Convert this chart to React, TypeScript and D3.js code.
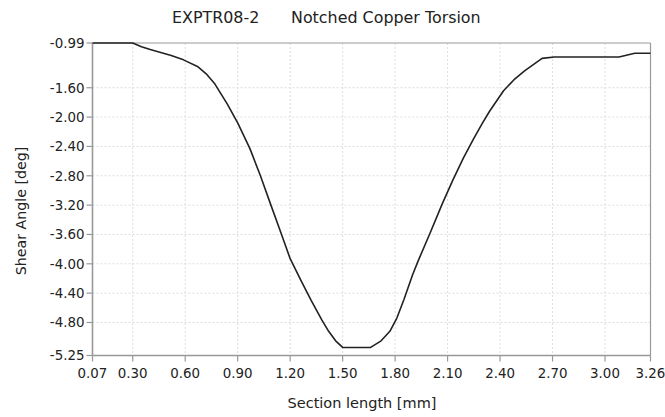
import React from "react";
import * as d3 from "d3";

const xValues = [0.07, 0.3, 0.35, 0.4, 0.46, 0.52, 0.59, 0.67, 0.72, 0.77, 0.84, 0.9, 0.97, 1.03, 1.09, 1.14, 1.2, 1.26, 1.32, 1.38, 1.42, 1.46, 1.5, 1.66, 1.72, 1.77, 1.81, 1.85, 1.9, 1.93, 2.0, 2.07, 2.13, 2.19, 2.25, 2.3, 2.34, 2.42, 2.48, 2.54, 2.64, 2.71, 3.08, 3.17, 3.26];
const yValues = [-0.99, -0.99, -1.04, -1.08, -1.12, -1.16, -1.22, -1.31, -1.41, -1.55, -1.82, -2.08, -2.43, -2.8, -3.2, -3.53, -3.93, -4.22, -4.5, -4.76, -4.92, -5.05, -5.14, -5.14, -5.05, -4.92, -4.74, -4.49, -4.15, -3.97, -3.58, -3.18, -2.86, -2.56, -2.29, -2.08, -1.92, -1.64, -1.49, -1.37, -1.2, -1.18, -1.18, -1.13, -1.13];
const xTicks = [0.07, 0.3, 0.6, 0.9, 1.2, 1.5, 1.8, 2.1, 2.4, 2.7, 3.0, 3.26];
const yTicks = [-0.99, -1.6, -2.0, -2.4, -2.8, -3.2, -3.6, -4.0, -4.4, -4.8, -5.25];
const titleLeft = "EXPTR08-2";
const titleRight = "Notched Copper Torsion";
const xLabel = "Section length [mm]";
const yLabel = "Shear Angle [deg]";

export default function App() {
  const W = 665, H = 417;
  const L = 92.5, R = 650.5, T = 43, B = 355.5;
  const x = d3.scaleLinear().domain([0.07, 3.26]).range([L, R]);
  const y = d3.scaleLinear().domain([-0.99, -5.25]).range([T, B]);
  const pts = xValues.map((v, i) => [v, yValues[i]] as [number, number]);
  const line = d3.line<[number, number]>().x(d => x(d[0])).y(d => y(d[1]));
  const font = "'DejaVu Sans', Verdana, sans-serif";
  const axisColor = "#999";
  const textColor = "#222";
  return (
    <svg width={W} height={H} style={{ position: "absolute", left: 0, top: 0, background: "#fff" }} fontFamily={font}>
      <rect x={0} y={0} width={W} height={H} fill="#fff" />
      {xTicks.slice(1, -1).map(t => (
        <line key={"gx" + t} x1={x(t)} x2={x(t)} y1={T} y2={B} stroke="#ddd" strokeWidth={1} strokeDasharray="2,2" />
      ))}
      {yTicks.slice(1, -1).map(t => (
        <line key={"gy" + t} x1={L} x2={R} y1={y(t)} y2={y(t)} stroke="#ddd" strokeWidth={1} strokeDasharray="2,2" />
      ))}
      <line x1={L} x2={R} y1={T} y2={T} stroke={axisColor} strokeWidth={1.2} />
      <line x1={R} x2={R} y1={T} y2={B} stroke={axisColor} strokeWidth={1.2} />
      <line x1={L} x2={L} y1={T} y2={B + 0.5} stroke={axisColor} strokeWidth={1.6} />
      <line x1={L} x2={R} y1={B} y2={B} stroke={axisColor} strokeWidth={1.6} />
      {xTicks.map(t => (
        <g key={"xt" + t}>
          <line x1={x(t)} x2={x(t)} y1={B} y2={B + 6} stroke={axisColor} strokeWidth={1.2} />
          <text x={x(t)} y={B + 22.5} textAnchor="middle" fontSize={13.4} fill={textColor}>{t.toFixed(2)}</text>
        </g>
      ))}
      {yTicks.map(t => (
        <g key={"yt" + t}>
          <line x1={L - 6} x2={L} y1={y(t)} y2={y(t)} stroke={axisColor} strokeWidth={1.2} />
          <text x={L - 8} y={y(t)} dy="0.36em" textAnchor="end" fontSize={13.4} fill={textColor}>{t.toFixed(2)}</text>
        </g>
      ))}
      <path d={line(pts) || ""} fill="none" stroke="#222" strokeWidth={1.6} strokeLinejoin="round" />
      <text x={172} y={23} fontSize={15.9} fill={textColor}>{titleLeft}</text>
      <text x={291} y={23} fontSize={15.9} fill={textColor}>{titleRight}</text>
      <text x={362} y={408} textAnchor="middle" fontSize={14.5} fill={textColor}>{xLabel}</text>
      <text transform={`translate(26,${211}) rotate(-90)`} textAnchor="middle" fontSize={14.2} fill={textColor}>{yLabel}</text>
    </svg>
  );
}
